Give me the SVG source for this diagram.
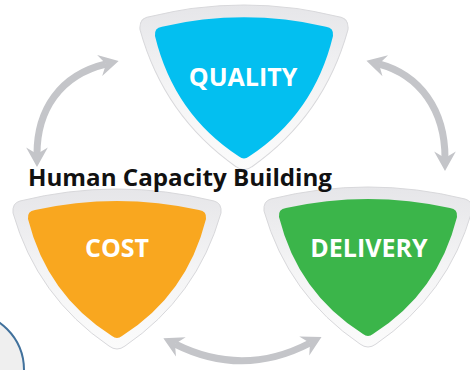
<svg xmlns="http://www.w3.org/2000/svg" xmlns:xlink="http://www.w3.org/1999/xlink" width="470" height="370" viewBox="0 0 470 370">
  <style>
    .rim { fill: url(#rimGrad); stroke: #d8d8db; stroke-width: 1; }
    .label { font-family: "Open Sans", "Liberation Sans", sans-serif; font-weight: bold; font-size: 25px; fill: #ffffff; text-anchor: middle; }
    .title { font-family: "Open Sans", "Liberation Sans", sans-serif; font-weight: bold; font-size: 24px; fill: #111111; }
    .arrow { fill: none; stroke: #c4c5c9; stroke-width: 7; }
  </style>
  <defs>
    <linearGradient id="rimGrad" x1="0" y1="0" x2="0" y2="1">
      <stop offset="0" stop-color="#e6e6e9"/>
      <stop offset="0.5" stop-color="#f4f4f5"/>
      <stop offset="1" stop-color="#fbfbfb"/>
    </linearGradient>
    <path id="shieldOuter" d="M -97,12 Q 0,-12 97,12 Q 105,14 104,24 Q 80,108 8,157 Q 0,163 -8,157 Q -80,108 -104,24 Q -105,14 -97,12 Z"/>
    <path id="shieldInner" d="M -82,21 Q 0,3 82,21 Q 90,22 89,30 Q 70,106 5,147 Q 0,151 -5,147 Q -70,106 -89,30 Q -90,22 -82,21 Z"/>
    <marker id="head" markerUnits="userSpaceOnUse" markerWidth="26" markerHeight="26" viewBox="-8 -12 22 24" refX="0" refY="0" orient="auto-start-reverse">
      <path d="M 12,0 L -6,-10 L 0,0 L -6,10 Z" fill="#c4c5c9"/>
    </marker>
  </defs>

  <g id="connectors">
    <path class="arrow" d="M 37,154 C 37,110 60,75 106,64" marker-start="url(#head)" marker-end="url(#head)"/>
    <path class="arrow" d="M 379,64 C 420,75 445,110 445,158" marker-start="url(#head)" marker-end="url(#head)"/>
    <path class="arrow" d="M 175,344 Q 243,378 310,343" marker-start="url(#head)" marker-end="url(#head)"/>
  </g>

  <g id="node-quality">
    <use xlink:href="#shieldOuter" href="#shieldOuter" class="rim" transform="translate(244,5) scale(1,1.03)"/>
    <use xlink:href="#shieldInner" href="#shieldInner" fill="#03bff0" transform="translate(244,5) scale(1,1.03)"/>
    <text class="label" x="243" y="86">QUALITY</text>
  </g>

  <g id="node-cost">
    <use xlink:href="#shieldOuter" href="#shieldOuter" class="rim" transform="translate(117,189)"/>
    <use xlink:href="#shieldInner" href="#shieldInner" fill="#f9a71f" transform="translate(117,189)"/>
    <text class="label" x="117" y="257">COST</text>
  </g>

  <g id="node-delivery">
    <use xlink:href="#shieldOuter" href="#shieldOuter" class="rim" transform="translate(368,187)"/>
    <use xlink:href="#shieldInner" href="#shieldInner" fill="#3bb54a" transform="translate(368,187)"/>
    <text class="label" x="369" y="257">DELIVERY</text>
  </g>

  <g id="node-circle">
    <circle cx="-34" cy="370" r="58" fill="#efefef" stroke="#41719c" stroke-width="2"/>
  </g>

  <g id="node-title">
    <text class="title" x="28" y="186" textLength="304" lengthAdjust="spacingAndGlyphs">Human Capacity Building</text>
  </g>
</svg>
